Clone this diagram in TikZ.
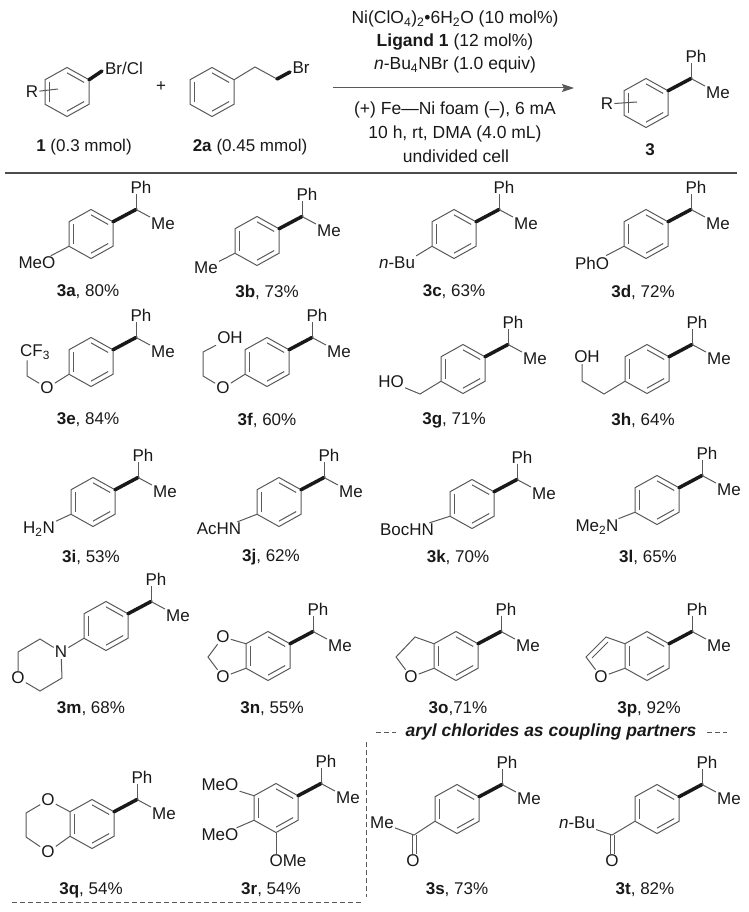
\documentclass[tikz,border=0pt]{standalone}
\usepackage{fontspec}
\setmainfont{Liberation Sans}
\usetikzlibrary{calc,arrows.meta}

\tikzset{
  bond/.style={line width=1pt, black!65},
  boldbond/.style={line width=3.5pt, black!90, line cap=round},
  boxdash/.style={line width=1pt, black!65, dash pattern=on 5pt off 3pt},
  atom/.style={inner sep=1pt, text=black!90, font=\fontsize{17}{18}\selectfont},
  yieldlabel/.style={inner sep=0pt, text=black!90, font=\fontsize{17}{18}\selectfont},
  condition/.style={inner sep=0pt, text=black!90, font=\fontsize{17.5}{18}\selectfont},
}

% benzene ring, corners numbered clockwise from the top
\newcommand{\arylring}[3]{
  \coordinate (#1-c) at (#2,#3);
  \coordinate (#1-1) at (#2,#3-24.5);
  \coordinate (#1-2) at (#2+22,#3-12.25);
  \coordinate (#1-3) at (#2+22,#3+12.25);
  \coordinate (#1-4) at (#2,#3+24.5);
  \coordinate (#1-5) at (#2-22,#3+12.25);
  \coordinate (#1-6) at (#2-22,#3-12.25);
  \draw[bond] (#1-1)--(#1-2)--(#1-3)--(#1-4)--(#1-5)--(#1-6)--cycle;
  \draw[bond] ($(#1-c)!.78!(#1-1)$)--($(#1-c)!.78!(#1-2)$);
  \draw[bond] ($(#1-c)!.78!(#1-3)$)--($(#1-c)!.78!(#1-4)$);
  \draw[bond] ($(#1-c)!.78!(#1-5)$)--($(#1-c)!.78!(#1-6)$);
}

% ring with the CH(Ph)Me arm
\newcommand{\phme}[3]{
  \arylring{#1}{#2}{#3}
  \coordinate (#1-ch) at (#2+45,#3-24.5);
  \node[atom] (#1-ph) at (#2+50,#3-47) {Ph};
  \node[atom] (#1-me) at (#2+72,#3-10) {Me};
  \draw[boldbond] (#1-2)--(#1-ch);
  \draw[bond] (#1-ch)--(#1-ch |- #1-ph.south);
  \draw[bond] (#1-ch)--(#1-me);
}

\begin{document}
\begin{tikzpicture}[x=1pt, y=-1pt, >={Stealth[length=12pt,width=8pt,inset=2pt]}]
\useasboundingbox (0,0) rectangle (748,912);

% reaction line
\arylring{one}{67}{92}
\node[atom] (one-r) at (32,92) {R};
\node[atom] (one-x) at (124,68) {Br/Cl};
\coordinate (one-rb) at (58,89);
\draw[bond] (one-r)--(one-rb);
\coordinate (one-w) at (102,71);
\draw[boldbond] (one-2)--(one-w);
\node[atom] (plus) at (161,87) {+};

\arylring{two}{212}{92}
\coordinate (two-a) at (255,67);
\coordinate (two-b) at (277,79);
\coordinate (two-w) at (290,72);
\node[atom] (two-x) at (301,68) {Br};
\draw[bond] (two-2)--(two-a)--(two-b);
\draw[boldbond] (two-b)--(two-w);

\node[yieldlabel] (one-label) at (84,147) {\textbf{1} (0.3 mmol)};
\node[yieldlabel] (two-label) at (250,147) {\textbf{2a} (0.45 mmol)};

\coordinate (arrow-a) at (333,88);
\coordinate (arrow-b) at (574,88);
\draw[bond,->] (arrow-a)--(arrow-b);
\node[condition] (cond-a) at (455,19) {Ni(ClO\textsubscript{4})\textsubscript{2}•6H\textsubscript{2}O (10 mol\%)};
\node[condition] (cond-b) at (455,42) {\textbf{Ligand 1} (12 mol\%)};
\node[condition] (cond-c) at (455,65) {\textit{n}-Bu\textsubscript{4}NBr (1.0 equiv)};
\node[condition] (cond-d) at (455,110) {(+) Fe—Ni foam (–), 6 mA};
\node[condition] (cond-e) at (455,134) {10 h, rt, DMA (4.0 mL)};
\node[condition] (cond-f) at (456,156) {undivided cell};

\phme{three}{646}{103}
\node[atom] (three-r) at (607,104) {R};
\coordinate (three-rb) at (637,102);
\draw[bond] (three-r)--(three-rb);
\node[yieldlabel] (three-label) at (650,150) {\textbf{3}};

\coordinate (rule-a) at (5,173);
\coordinate (rule-b) at (737,173);
\draw[line width=1.3pt, black!70] (rule-a)--(rule-b);

% products with the plain ring
\foreach \id/\x/\y/\lx/\ly/\pct in {a/91/234/88/292/80, b/257/241/267/292/73, c/454/234/454/292/63,
  d/646/234/643/292/72, e/91/362/88/420/84, f/267/362/267/420/60, g/463/369/454/420/71,
  h/647/369/643/420/64, i/93/502/91/557/53, j/279/502/271/557/62, k/472/504/458/557/70,
  l/657/500/648/557/65, m/106/626/91/709/68, n/268/656/272/709/55, p/647/656/649/709/92,
  q/92/824/91/890/54, r/276/808/271/890/54, s/457/809/457/890/73, t/657/809/645/890/82}
{
  \phme{\id}{\x}{\y}
  \node[yieldlabel] (\id-yield) at (\lx,\ly) {\textbf{3\id}, \pct\%};
}
\phme{o}{456}{656}
\node[yieldlabel] (o-yield) at (458,709) {\textbf{3o},71\%};

% substituents
\node[atom] (a-sub) at (37,263) {MeO};
\draw[bond] (a-5)--(a-sub);
\node[atom] (b-sub) at (206,268) {Me};
\draw[bond] (b-5)--(b-sub);
\node[atom] (c-sub) at (397,263) {\textit{n}-Bu};
\draw[bond] (c-5)--(c-sub.north east);
\node[atom] (d-sub) at (592,263) {PhO};
\draw[bond] (d-5)--(d-sub);

\node[atom] (e-o) at (47,388) {O};
\coordinate (e-a) at (27,376);
\node[atom] (e-sub) at (35,352) {CF\textsubscript{3}};
\draw[bond] (e-5)--(e-o)--(e-a)--(e-a |- e-sub.south);

\node[atom] (f-o) at (223,388) {O};
\coordinate (f-a) at (203,376);
\coordinate (f-b) at (203,352);
\node[atom] (f-sub) at (230,338) {OH};
\draw[bond] (f-5)--(f-o)--(f-a)--(f-b)--(f-sub.south west);

\coordinate (g-a) at (420,394);
\node[atom] (g-sub) at (391,382) {HO};
\draw[bond] (g-5)--(g-a)--(g-sub);

\coordinate (h-a) at (604,394);
\coordinate (h-b) at (582,381);
\node[atom] (h-sub) at (587,357) {OH};
\draw[bond] (h-5)--(h-a)--(h-b)--(h-b |- h-sub.south);

\node[atom] (i-sub) at (39,529) {H\textsubscript{2}N};
\draw[bond] (i-5)--(i-sub);
\node[atom] (j-sub) at (219,529) {AcHN};
\draw[bond] (j-5)--(j-sub);
\node[atom] (k-sub) at (407,530) {BocHN};
\draw[bond] (k-5)--(k-sub);
\node[atom] (l-sub) at (597,527) {Me\textsubscript{2}N};
\draw[bond] (l-5)--(l-sub);

% morpholine
\node[atom] (m-n) at (61,652) {N};
\node[atom] (m-o) at (18,678) {O};
\coordinate (m-a) at (40,639);
\coordinate (m-b) at (18,652);
\coordinate (m-d) at (40,691);
\coordinate (m-e) at (62,678);
\draw[bond] (m-5)--(m-n)--(m-a)--(m-b)--(m-o)--(m-d)--(m-e)--(m-n);

% fused rings
\node[atom] (n-o) at (223,637) {O};
\node[atom] (n-p) at (223,677) {O};
\coordinate (n-a) at (208,657);
\draw[bond] (n-6)--(n-o)--(n-a)--(n-p)--(n-5);

\node[atom] (o-o) at (411,677) {O};
\coordinate (o-a) at (415,637);
\coordinate (o-b) at (396,657);
\draw[bond] (o-6)--(o-a)--(o-b)--(o-o)--(o-5);

\node[atom] (p-o) at (601,677) {O};
\coordinate (p-a) at (606,637);
\coordinate (p-b) at (586,657);
\coordinate (p-a2) at (608,642);
\coordinate (p-b2) at (592,658);
\draw[bond] (p-6)--(p-a)--(p-b)--(p-o)--(p-5);
\draw[bond] (p-a2)--(p-b2);

\node[atom] (q-o) at (48,800) {O};
\node[atom] (q-p) at (48,852) {O};
\coordinate (q-a) at (26,813);
\coordinate (q-b) at (26,837);
\draw[bond] (q-6)--(q-o)--(q-a)--(q-b)--(q-p)--(q-5);

\node[atom] (r-a) at (220,785) {MeO};
\node[atom] (r-b) at (220,835) {MeO};
\node[atom] (r-d) at (288,861) {OMe};
\draw[bond] (r-6)--(r-a);
\draw[bond] (r-5)--(r-b);
\draw[bond] (r-4)--(r-4 |- r-d.north);

% ketones
\coordinate (s-a) at (414,835);
\node[atom] (s-sub) at (382,823) {Me};
\node[atom] (s-o) at (413,861) {O};
\draw[bond] (s-5)--(s-a)--(s-sub);
\draw[bond] ([xshift=-2pt]s-a)--([xshift=-2pt]s-a |- s-o.north);
\draw[bond] ([xshift=2pt]s-a)--([xshift=2pt]s-a |- s-o.north);

\coordinate (t-a) at (612,835);
\node[atom] (t-sub) at (577,823) {\textit{n}-Bu};
\node[atom] (t-o) at (612,861) {O};
\draw[bond] (t-5)--(t-a)--(t-sub);
\draw[bond] ([xshift=-2pt]t-a)--([xshift=-2pt]t-a |- t-o.north);
\draw[bond] ([xshift=2pt]t-a)--([xshift=2pt]t-a |- t-o.north);

% aryl chloride box
\node[condition] (box-title) at (551,732) {\textbf{\textit{aryl chlorides as coupling partners}}};
\coordinate (box-a) at (376,732);
\coordinate (box-b) at (396,732);
\coordinate (box-c) at (707,732);
\coordinate (box-d) at (727,732);
\coordinate (box-e) at (366,742);
\coordinate (box-f) at (366,897);
\coordinate (box-g) at (12,902);
\coordinate (box-h) at (362,902);
\draw[boxdash] (box-a)--(box-b);
\draw[boxdash] (box-c)--(box-d);
\draw[boxdash] (box-e)--(box-f);
\draw[boxdash] (box-g)--(box-h);
\end{tikzpicture}
\end{document}
